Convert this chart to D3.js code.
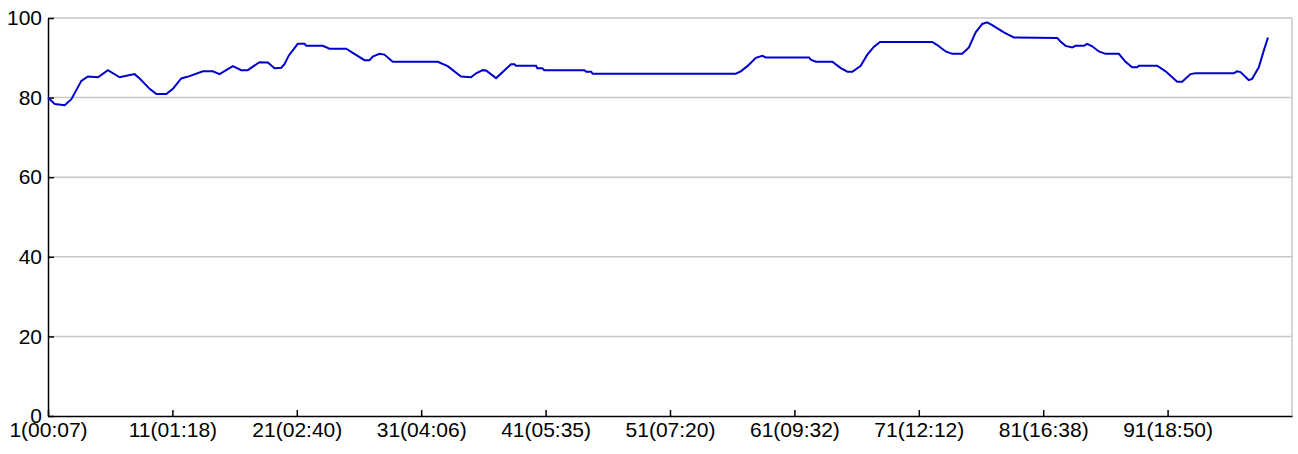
<!DOCTYPE html>
<html>
<head>
<meta charset="utf-8">
<script src="https://cdn.jsdelivr.net/npm/d3@7"></script>
<style>
  body { margin: 0; background: #fff; }
  svg { display: block; font-family: Arial, "Liberation Sans", sans-serif; }
</style>
</head>
<body>
<svg width="1298" height="454"></svg>
<script>
// sample position (record index, fractional) and value
var sampleIdx = [1, 1.54, 2.34, 2.88, 3.68, 4.21, 5.02, 5.82, 6.76, 7.30, 7.96, 8.37, 9.17, 9.71, 10.51,
  11.04, 11.71, 12.38, 13.45, 14.25, 14.79, 15.86, 16.53, 17.06, 18.00, 18.67, 19.21, 19.75, 20.01, 20.36,
  21.08, 21.62, 21.76, 23.09, 23.63, 24.97, 25.63, 26.44, 26.84, 27.11, 27.64, 28.04, 28.71, 32.33, 33.13,
  34.20, 35.01, 35.41, 35.94, 36.21, 37.02, 37.68, 38.22, 38.49, 38.62, 40.23, 40.33, 40.73, 40.90, 44.11,
  44.27, 44.67, 44.78, 56.29, 56.69, 57.22, 57.90, 58.43, 58.70, 62.18, 62.32, 62.72, 64.05, 64.73, 65.26,
  65.66, 66.33, 66.86, 67.40, 67.88, 72.08, 72.49, 73.16, 73.69, 74.49, 75.03, 75.57, 76.10, 76.49, 76.90,
  77.84, 78.64, 82.12, 82.39, 82.80, 83.33, 83.60, 84.27, 84.53, 84.94, 85.47, 86.01, 87.08, 87.62, 88.15,
  88.55, 88.69, 90.16, 90.84, 91.77, 92.17, 92.84, 93.24, 96.32, 96.58, 96.86, 97.52, 97.79, 98.33, 98.73,
  99.07];
var sampleVal = [80.0, 78.4, 78.1, 79.6, 84.2, 85.3, 85.1, 86.9, 85.1, 85.5, 85.9, 84.8, 82.2, 80.9, 80.9,
  82.2, 84.8, 85.4, 86.6, 86.6, 85.9, 87.9, 86.9, 86.9, 88.9, 88.8, 87.4, 87.5, 88.4, 90.6,
  93.5, 93.5, 93.0, 93.0, 92.3, 92.3, 91.0, 89.4, 89.4, 90.3, 91.0, 90.8, 89.0, 89.0, 87.9,
  85.3, 85.1, 86.1, 86.9, 86.8, 84.9, 86.8, 88.4, 88.4, 88.0, 88.0, 87.4, 87.4, 86.9, 86.9,
  86.5, 86.5, 86.0, 86.0, 86.6, 87.9, 90.0, 90.5, 90.1, 90.1, 89.5, 89.0, 89.0, 87.4, 86.5,
  86.5, 88.0, 90.8, 92.8, 94.0, 94.0, 93.2, 91.6, 91.0, 91.0, 92.6, 96.4, 98.5, 98.9, 98.2,
  96.4, 95.1, 95.0, 94.1, 93.0, 92.6, 93.0, 93.0, 93.5, 92.9, 91.6, 91.0, 91.0, 89.0, 87.6,
  87.6, 88.0, 88.0, 86.6, 84.0, 84.0, 85.9, 86.1, 86.1, 86.6, 86.4, 84.4, 84.7, 87.6, 91.8,
  95.1];

var xTickIdx = [1, 11, 21, 31, 41, 51, 61, 71, 81, 91];
var xTickLabels = ['1(00:07)', '11(01:18)', '21(02:40)', '31(04:06)', '41(05:35)',
  '51(07:20)', '61(09:32)', '71(12:12)', '81(16:38)', '91(18:50)'];
var yTicks = [0, 20, 40, 60, 80, 100];

var plotLeft = 48, plotRight = 1292, plotTop = 18, plotBottom = 416;

var svg = d3.select('svg');

var scaleX = d3.scaleLinear().domain([1, 101]).range([plotLeft, plotRight]);
var scaleY = d3.scaleLinear().domain([0, 100]).range([plotBottom, plotTop]);

// grid
svg.append('g')
  .selectAll('line')
  .data(yTicks.filter(function(d){ return d > 0; }))
  .enter()
  .append('line')
  .attr('x1', plotLeft)
  .attr('x2', plotRight)
  .attr('y1', function(d){ return scaleY(d); })
  .attr('y2', function(d){ return scaleY(d); })
  .attr('stroke', '#c8c8c8')
  .attr('stroke-width', 1.5);

svg.append('line')
  .attr('x1', plotRight)
  .attr('x2', plotRight)
  .attr('y1', plotTop)
  .attr('y2', plotBottom)
  .attr('stroke', '#c8c8c8')
  .attr('stroke-width', 1.5);

// axes
var xAxis = svg.append('g')
  .attr('transform', 'translate(0,' + plotBottom + ')')
  .call(d3.axisBottom(scaleX)
    .tickValues(xTickIdx)
    .tickSizeInner(-6)
    .tickSizeOuter(0)
    .tickFormat(function(d, i){ return xTickLabels[i]; }));

xAxis.select('.domain').attr('stroke', '#000').attr('stroke-width', 1.5);
xAxis.selectAll('.tick line').attr('stroke', '#000').attr('stroke-width', 1.5);
xAxis.selectAll('.tick text')
  .attr('y', 6)
  .attr('dy', '0.71em')
  .attr('font-size', 21)
  .attr('font-family', 'Arial, "Liberation Sans", sans-serif')
  .attr('fill', '#000');

var yAxis = svg.append('g')
  .attr('transform', 'translate(' + plotLeft + ',0)')
  .call(d3.axisLeft(scaleY)
    .tickValues(yTicks)
    .tickSizeInner(-6)
    .tickSizeOuter(0));

yAxis.select('.domain').attr('stroke', '#000').attr('stroke-width', 1.5);
yAxis.selectAll('.tick line').attr('stroke', '#000').attr('stroke-width', 1.5);
yAxis.selectAll('.tick text')
  .attr('x', -6)
  .attr('font-size', 21)
  .attr('font-family', 'Arial, "Liberation Sans", sans-serif')
  .attr('fill', '#000');

// series
var line = d3.line()
  .x(function(d){ return scaleX(d[0]); })
  .y(function(d){ return scaleY(d[1]); });

svg.append('path')
  .datum(d3.zip(sampleIdx, sampleVal))
  .attr('d', line)
  .attr('fill', 'none')
  .attr('stroke', '#0000cc')
  .attr('stroke-width', 2);
</script>
</body>
</html>
